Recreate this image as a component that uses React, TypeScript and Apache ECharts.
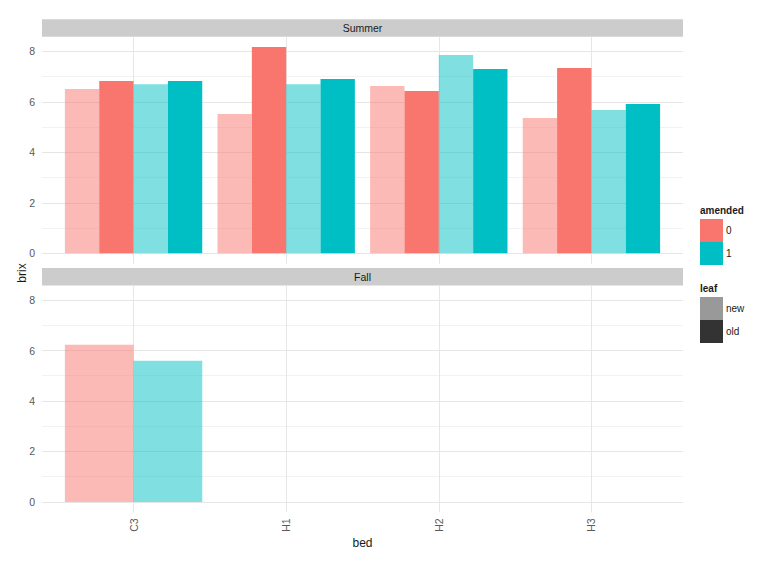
import React, { useEffect, useRef } from "react";
import * as echarts from "echarts";

const beds = ["C3", "H1", "H2", "H3"];
const summer0New = [6.51, 5.52, 6.63, 5.36];
const summer0Old = [6.82, 8.17, 6.43, 7.34];
const summer1New = [6.7, 6.7, 7.85, 5.68];
const summer1Old = [6.82, 6.9, 7.3, 5.91];
const fall0New: (number | null)[] = [6.23, null, null, null];
const fall1New: (number | null)[] = [5.59, null, null, null];
const yMajor = [0, 2, 4, 6, 8];
const yMinorTicks = [1, 3, 5, 7];
const xTicks = [1, 2, 3, 4];
const panels = ["Summer", "Fall"];

const RED = "#F8766D";
const CYAN = "#00BFC4";
const FONT = "Liberation Sans, Arial, sans-serif";

const W = 781;
const GRID_LEFT = 42;
const GRID_RIGHT = 98;
const GRID_W = W - GRID_LEFT - GRID_RIGHT;
const X_MIN = 0.4;
const X_MAX = 4.6;
const UNIT = GRID_W / (X_MAX - X_MIN);
const Y_MIN = -0.4085;
const Y_MAX = 8.5785;
const GRID_H = 226.9;
const TOPS = [36.7, 285.4];
const STRIP_H = 17.5;

const toData = (arr: (number | null)[]) =>
  arr
    .map((v, i) => (v === null ? null : [xTicks[i], v]))
    .filter((d) => d !== null);

export default function App() {
  const ref = useRef<HTMLDivElement>(null);
  useEffect(() => {
    if (!ref.current) return;
    const chart = echarts.init(ref.current, null, { renderer: "svg" });

    const xAxes = [0, 1].map((g) => ({
      type: "value",
      gridIndex: g,
      position: "bottom",
      min: X_MIN,
      max: X_MAX,
      axisLine: { show: false },
      axisTick: { show: false, customValues: xTicks },
      axisLabel: {
        show: g === 1,
        customValues: xTicks,
        formatter: (v: number) => beds[Math.round(v) - 1],
        rotate: 90,
        margin: 6,
        color: "#5a5a5a",
        fontSize: 10.5,
        fontFamily: FONT,
      },
      splitLine: { show: true, lineStyle: { color: "#E6E6E6", width: 1 } },
    }));

    const yAxes: any[] = [];
    [0, 1].forEach((g) => {
      yAxes.push({
        type: "value",
        gridIndex: g,
        position: "left",
        min: Y_MIN,
        max: Y_MAX,
        axisLine: { show: false },
        axisTick: { show: false, customValues: yMinorTicks },
        axisLabel: { show: false, customValues: yMinorTicks },
        splitLine: { show: true, lineStyle: { color: "#F2F2F2", width: 1 } },
      });
      yAxes.push({
        type: "value",
        gridIndex: g,
        position: "left",
        min: Y_MIN,
        max: Y_MAX,
        axisLine: { show: false },
        axisTick: { show: false, customValues: yMajor },
        axisLabel: {
          customValues: yMajor,
          margin: 7,
          color: "#5a5a5a",
          fontSize: 10.5,
          fontFamily: FONT,
        },
        splitLine: { show: true, lineStyle: { color: "#E6E6E6", width: 1 } },
      });
    });

    const bw = UNIT * 0.9 / 4;
    const mk = (name: string, data: any[], g: number, color: string, opacity: number, width: number) => ({
      type: "bar",
      name,
      xAxisIndex: g,
      yAxisIndex: g * 2 + 1,
      data,
      barWidth: width,
      barGap: "0%",
      itemStyle: { color, opacity },
      silent: true,
    });

    const series = [
      mk("Summer 0 new", toData(summer0New), 0, RED, 0.5, bw),
      mk("Summer 0 old", toData(summer0Old), 0, RED, 1, bw),
      mk("Summer 1 new", toData(summer1New), 0, CYAN, 0.5, bw),
      mk("Summer 1 old", toData(summer1Old), 0, CYAN, 1, bw),
      mk("Fall 0 new", toData(fall0New), 1, RED, 0.5, bw * 2),
      mk("Fall 1 new", toData(fall1New), 1, CYAN, 0.5, bw * 2),
    ];

    const graphics: any[] = [];
    panels.forEach((p, i) => {
      graphics.push({
        type: "rect",
        shape: { x: GRID_LEFT, y: TOPS[i] - STRIP_H, width: GRID_W, height: STRIP_H },
        style: { fill: "#CCCCCC" },
        silent: true,
      });
      graphics.push({
        type: "text",
        x: GRID_LEFT + GRID_W / 2,
        y: TOPS[i] - STRIP_H / 2,
        style: {
          text: p,
          fill: "#1A1A1A",
          font: `10.5px ${FONT}`,
          align: "center",
          verticalAlign: "middle",
        },
        silent: true,
      });
    });
    graphics.push({
      type: "text",
      x: 21.5,
      y: 273,
      rotation: Math.PI / 2,
      style: { text: "brix", fill: "#1A1A1A", font: `12px ${FONT}`, align: "center", verticalAlign: "middle" },
    });
    graphics.push({
      type: "text",
      x: GRID_LEFT + GRID_W / 2,
      y: 543,
      style: { text: "bed", fill: "#1A1A1A", font: `12px ${FONT}`, align: "center", verticalAlign: "middle" },
    });

    const legend = (title: string, ty: number, items: { label: string; color: string }[]) => {
      graphics.push({
        type: "text",
        x: 700,
        y: ty,
        style: { text: title, fill: "#1A1A1A", font: `bold 10px ${FONT}`, align: "left", verticalAlign: "middle" },
      });
      items.forEach((it, k) => {
        const y0 = ty + 8.5 + k * 23;
        graphics.push({
          type: "rect",
          shape: { x: 700, y: y0, width: 23, height: 23 },
          style: { fill: it.color },
        });
        graphics.push({
          type: "text",
          x: 726,
          y: y0 + 11.5,
          style: { text: it.label, fill: "#1A1A1A", font: `10px ${FONT}`, align: "left", verticalAlign: "middle" },
        });
      });
    };
    legend("amended", 210.5, [
      { label: "0", color: RED },
      { label: "1", color: CYAN },
    ]);
    legend("leaf", 288.5, [
      { label: "new", color: "#999999" },
      { label: "old", color: "#333333" },
    ]);

    chart.setOption({
      animation: false,
      backgroundColor: "#FFFFFF",
      textStyle: { fontFamily: FONT },
      grid: TOPS.map((t) => ({ left: GRID_LEFT, right: GRID_RIGHT, top: t, height: GRID_H })),
      xAxis: xAxes,
      yAxis: yAxes,
      series,
      graphic: graphics,
    });
    return () => chart.dispose();
  }, []);
  return (
    <div
      ref={ref}
      style={{ position: "absolute", left: 0, top: 0, width: 781, height: 562 }}
    />
  );
}
